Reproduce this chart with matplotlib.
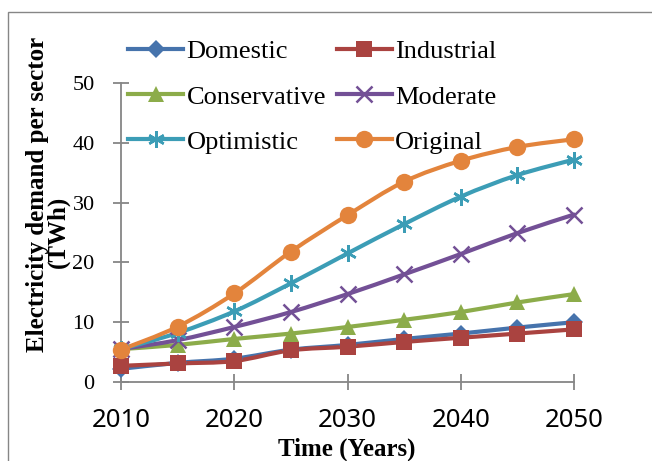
import numpy as np
import matplotlib
matplotlib.use("Agg")
import matplotlib.pyplot as plt
from matplotlib.path import Path
from matplotlib.patches import PathPatch, Rectangle
from matplotlib.lines import Line2D

# Electricity demand per sector (TWh), 2010-2050
years = [2010, 2015, 2020, 2025, 2030, 2035, 2040, 2045, 2050]
domestic = [2.2, 3.2, 3.9, 5.4, 6.2, 7.2, 8.1, 9.1, 10.0]
industrial = [2.7, 3.1, 3.5, 5.3, 5.9, 6.7, 7.4, 8.1, 8.8]
conservative = [5.5, 6.2, 7.2, 8.1, 9.2, 10.4, 11.7, 13.3, 14.7]
moderate = [5.5, 7.0, 9.2, 11.7, 14.7, 18.0, 21.4, 24.9, 28.0]
optimistic = [5.5, 8.2, 11.8, 16.5, 21.5, 26.4, 31.0, 34.6, 37.2]
original = [5.4, 9.25, 14.8, 21.8, 27.9, 33.5, 37.0, 39.3, 40.6]

series_names = ["Domestic", "Industrial", "Conservative", "Moderate",
                "Optimistic", "Original"]
x_ticks = [2010, 2020, 2030, 2040, 2050]
y_ticks = [0, 10, 20, 30, 40, 50]

series = [domestic, industrial, conservative, moderate, optimistic, original]
colors = ["#4673AC", "#AA4340", "#8CAC4A", "#735096", "#3C9DB6", "#E3843C"]
markers = ["D", "s", "^", "x", "*", "o"]
msizes = [9, 12, 12, 11, 12, 12.5]

SERIF = "Liberation Serif"
SANS = "Noto Sans"
GRAY = "#868686"


def smooth_path(x, y):
    """Bezier path through the points, Excel-style smoothing."""
    pts = np.column_stack([x, y]).astype(float)
    n = len(pts)
    verts = [pts[0]]
    codes = [Path.MOVETO]
    for i in range(n - 1):
        p0 = pts[i - 1] if i > 0 else pts[i]
        p1 = pts[i]
        p2 = pts[i + 1]
        p3 = pts[i + 2] if i + 2 < n else pts[i + 1]
        c1 = p1 + (p2 - p0) / 6.0
        c2 = p2 - (p3 - p1) / 6.0
        verts += [c1, c2, p2]
        codes += [Path.CURVE4] * 3
    return Path(verts, codes)


def marker_kw(m, c, ms):
    if m == "*":
        # asterisk drawn as a thin six-armed star
        return dict(marker=(6, 2, 0), ms=ms, mec=c, mew=1.8)
    return dict(marker=m, ms=ms, mfc=c, mec=c,
                mew=1.8 if m == "x" else 0.0)


W, H = 652, 461
fig = plt.figure(figsize=(W / 100, H / 100), dpi=100)
ax = fig.add_axes([121 / W, 79 / H, 453 / W, 299 / H])

for vals, c, m, ms in zip(series, colors, markers, msizes):
    ax.add_patch(PathPatch(smooth_path(years, vals), fill=False,
                           edgecolor=c, lw=3.0, capstyle="round",
                           joinstyle="round", clip_on=False, zorder=3))
    ax.plot(years, vals, linestyle="none", clip_on=False, zorder=4,
            **marker_kw(m, c, ms))

ax.set_xlim(2010, 2050)
ax.set_ylim(0, 50)

for s in ("top", "right"):
    ax.spines[s].set_visible(False)
for s in ("left", "bottom"):
    ax.spines[s].set_color(GRAY)
    ax.spines[s].set_linewidth(1.3)

ax.set_xticks(x_ticks)
ax.set_xticklabels([str(t) for t in x_ticks], fontfamily=SANS, fontsize=18.5)
ax.set_yticks(y_ticks)
ax.set_yticklabels([str(t) for t in y_ticks], fontfamily=SERIF, fontsize=16)
ax.tick_params(axis="both", direction="inout", length=12, width=1.3,
               color=GRAY)
ax.tick_params(axis="x", pad=13)
ax.tick_params(axis="y", pad=13)

fig.text(347 / W, 1 - 449 / H, "Time (Years)", fontfamily=SERIF,
         fontweight="bold", fontsize=18, ha="center", va="center")
fig.text(38 / W, 1 - 194 / H, "Electricity demand per sector",
         fontfamily=SERIF, fontweight="bold", fontsize=18, rotation=90,
         ha="center", va="center")
fig.text(58 / W, 1 - 232 / H, "(TWh)", fontfamily=SERIF,
         fontweight="bold", fontsize=18, rotation=90, ha="center",
         va="center")

handles = [Line2D([], [], color=c, lw=3.0, **marker_kw(m, c, ms))
           for c, m, ms in zip(colors, markers, msizes)]
order = [0, 2, 4, 1, 3, 5]
leg = fig.legend([handles[i] for i in order],
                 [series_names[i] for i in order], ncol=2,
                 loc="upper left", bbox_to_anchor=(128 / W, 1 - 40 / H),
                 frameon=False, prop={"family": SERIF, "size": 19},
                 handlelength=2.1, handletextpad=0.12, columnspacing=0.4,
                 labelspacing=0.82, borderpad=0, borderaxespad=0)

# chart border
fig.patches.append(Rectangle((8 / W, -0.1), 1.2, 1 - 12 / H + 0.1,
                             transform=fig.transFigure, fill=False,
                             edgecolor=GRAY, lw=1.0))

fig.savefig("out.png", dpi=100)
